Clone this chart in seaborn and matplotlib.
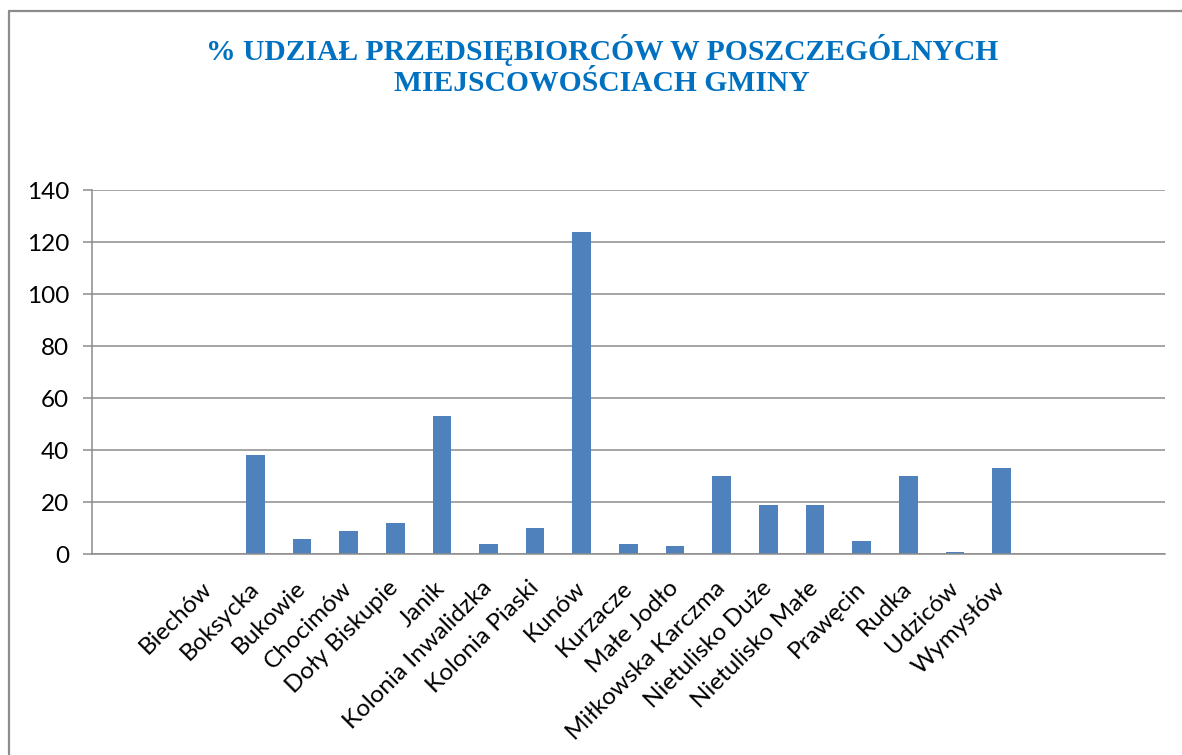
import numpy as np
import matplotlib
matplotlib.use("Agg")
import matplotlib.pyplot as plt
from matplotlib.lines import Line2D
import seaborn as sns

# slots without names are empty categories in the original sheet
miejscowosci = ["", "", "Biechów", "Boksycka", "Bukowie", "Chocimów", "Doły Biskupie",
                "Janik", "Kolonia Inwalidzka", "Kolonia Piaski", "Kunów", "Kurzacze",
                "Małe Jodło", "Miłkowska Karczma", "Nietulisko Duże", "Nietulisko Małe",
                "Prawęcin", "Rudka", "Udziców", "Wymysłów", "", "", ""]
udzial = [0, 0, 0, 38, 6, 9, 12, 53, 4, 10, 124, 4, 3, 30, 19, 19, 5, 30, 1, 33, 0, 0, 0]
y_ticks = [0, 20, 40, 60, 80, 100, 120, 140]

sns.set_style("white")
plt.rcParams["font.family"] = ["Lato", "DejaVu Sans"]
plt.rcParams["text.color"] = "black"
plt.rcParams["xtick.labelcolor"] = "black"
plt.rcParams["ytick.labelcolor"] = "black"

grey = "#8c8c8c"
slots = list(range(len(miejscowosci)))

fig, ax = plt.subplots(figsize=(11.82, 7.55), dpi=100)
fig.subplots_adjust(left=0.0778, right=0.9856, top=0.748, bottom=0.266)

sns.barplot(x=slots, y=udzial, order=slots, color="#4F81BD", saturation=1,
            width=0.4, linewidth=0, ax=ax)

ax.set_xlim(-0.5, len(slots) - 0.5)
ax.set_ylim(0, 140)
ax.set_yticks(y_ticks)
ax.yaxis.grid(True, color=grey, lw=1.1)
ax.set_axisbelow(True)
ax.set_xlabel("")
ax.set_ylabel("")

# labels at slot centres, tick marks on slot boundaries
ax.set_xticks(slots)
ax.set_xticklabels(miejscowosci, rotation=45, ha="right", va="center",
                   rotation_mode="anchor", fontsize=17.5)
ax.tick_params(axis="x", which="major", length=0, pad=22)
ax.set_xticks(np.arange(-0.5, len(slots), 1.0), minor=True)
ax.tick_params(axis="x", which="minor", length=6.5, width=1.1, color=grey, direction="out")
ax.tick_params(axis="y", length=6.5, width=1.1, color=grey, labelsize=17.5, pad=10,
               left=True, direction="out")

for side in ["top", "right"]:
    ax.spines[side].set_visible(False)
for side in ["left", "bottom"]:
    ax.spines[side].set_color(grey)
    ax.spines[side].set_linewidth(1.1)

fig.text(0.509, 0.913, "% UDZIAŁ PRZEDSIĘBIORCÓW W POSZCZEGÓLNYCH\nMIEJSCOWOŚCIACH GMINY",
         ha="center", va="center", fontsize=21.3, fontweight="bold", color="#0070C0",
         family=["Liberation Serif", "DejaVu Serif"], linespacing=1.2)

# chart frame (cut off at right and bottom in the source)
fig.add_artist(Line2D([9 / 1182, 9 / 1182], [0, 1 - 11 / 755], color=grey, lw=1.6))
fig.add_artist(Line2D([9 / 1182, 1], [1 - 11 / 755, 1 - 11 / 755], color=grey, lw=1.6))

fig.savefig("out.png", dpi=100)
